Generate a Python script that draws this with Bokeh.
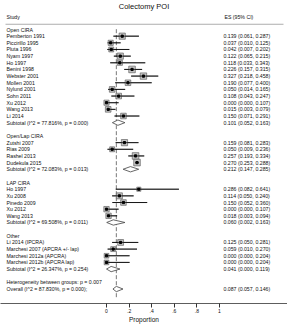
import math
from bokeh.plotting import figure
from bokeh.models import Range1d, FixedTicker, ColumnDataSource
from bokeh.core.properties import value
from bokeh.embed import file_html
from bokeh.resources import INLINE

title = "Colectomy POI"
axis_title = "Proportion"
col_study = "Study"
col_es = "ES (95% CI)"
ticks = [0, 0.2, 0.4, 0.6, 0.8, 1]
tick_labels = ["0", ".2", ".4", ".6", ".8", "1"]

row_labels = [
    "Open CIRA", "Pemberton 1991", "Piccirillo 1995", "Pluta 1996", "Nyam 1997", "Ho 1997",
    "Benini 1998", "Webster 2001", "Mollen 2001", "Nylund 2001", "Sohn 2011", "Xu 2012",
    "Wang 2013", "Li 2014", "Subtotal  (I^2 = 77.816%, p = 0.000)", "",
    "Open/Lap CIRA", "Zutshi 2007", "Rias 2009", "Rashel 2013", "Dudekula 2015",
    "Subtotal  (I^2 = 72.083%, p = 0.013)", "",
    "LAP CIRA", "Ho 1997", "Xu 2008", "Pinedo 2009", "Xu 2012", "Wang 2013",
    "Subtotal  (I^2 = 69.508%, p = 0.011)", "",
    "Other", "Li 2014 (IPCRA)", "Marchesi 2007 (APCRA +/- lap)", "Marchesi 2012a (APCRA)",
    "Marchesi 2012b (APCRA lap)", "Subtotal  (I^2 = 26.347%, p = 0.254)", "",
    "Heterogeneity between groups: p = 0.007", "Overall  (I^2 = 87.830%, p = 0.000);",
]
row_types = (["group"] + ["study"] * 13 + ["sub", "blank"]
             + ["group"] + ["study"] * 4 + ["sub", "blank"]
             + ["group"] + ["study"] * 5 + ["sub", "blank"]
             + ["group"] + ["study"] * 4 + ["sub", "blank"]
             + ["het", "overall"])
N = None
es = [N, .139, .037, .042, .122, .118, .226, .327, .190, .050, .108, .000, .015, .150, .101, N,
      N, .159, .050, .257, .270, .212, N,
      N, .286, .114, .150, .000, .018, .060, N,
      N, .125, .059, .000, .000, .041, N,
      N, .087]
lo = [N, .061, .010, .007, .065, .033, .157, .218, .077, .014, .043, .000, .003, .071, .052, N,
      N, .081, .009, .193, .253, .147, N,
      N, .082, .050, .052, .000, .003, .002, N,
      N, .050, .010, .000, .000, .000, N,
      N, .057]
hi = [N, .287, .125, .202, .215, .343, .315, .458, .400, .165, .247, .107, .079, .291, .163, N,
      N, .283, .236, .334, .288, .285, N,
      N, .641, .240, .360, .107, .094, .163, N,
      N, .281, .270, .204, .204, .119, N,
      N, .146]
weights = [N, 8.0, 5.5, 5.0, 8.0, 5.5, 9.0, 8.5, 6.5, 6.5, 6.5, 5.5, 6.5, 6.5, N, N,
           N, 8.0, 5.0, 9.0, 9.0, N, N,
           N, 3.5, 7.5, 6.5, 6.0, 6.0, N, N,
           N, 7.0, 5.0, 4.5, 4.5, N, N,
           N, N]

FONT = value("Liberation Sans")
W, H = 287, 325
PX_PER_UNIT = 113.0
X0_PX = 106.0
x0 = -X0_PX / PX_PER_UNIT
x1 = x0 + W / PX_PER_UNIT

def xd(px):
    return x0 + px / PX_PER_UNIT

FRAME_H = 306.0
ROW0_PX = 29.3
ROW_STEP = 6.72

def yd(px):
    return 1 + (px - ROW0_PX) / ROW_STEP

p = figure(width=W, height=H, output_backend="svg", toolbar_location=None,
           x_range=Range1d(x0, x1), y_range=Range1d(yd(FRAME_H), yd(0)),
           y_axis_type=None, min_border_left=0, min_border_right=0,
           min_border_top=0, min_border_bottom=int(H - FRAME_H))
p.grid.visible = False
p.outline_line_color = None
p.background_fill_color = "white"
p.border_fill_color = "white"

rows = list(range(1, len(row_labels) + 1))
overall_es = es[-1]

# dashed overall line
p.segment(x0=[overall_es], x1=[overall_es], y0=[0.95], y1=[yd(301)],
          line_color="#555555", line_width=0.8, line_dash="4 2")

# header line
p.segment(x0=[xd(5)], x1=[xd(283)], y0=[yd(24)], y1=[yd(24)],
          line_color="#999999", line_width=0.8)

# studies
s_idx = [i for i, t in enumerate(row_types) if t == "study"]
src = ColumnDataSource(dict(
    y=[rows[i] for i in s_idx], es=[es[i] for i in s_idx],
    lo=[lo[i] for i in s_idx], hi=[hi[i] for i in s_idx],
    size=[2.2 * math.sqrt(weights[i]) for i in s_idx]))
p.segment(x0="lo", x1="hi", y0="y", y1="y", source=src, line_color="black", line_width=0.7)
p.scatter(x="es", y="y", size="size", marker="square", source=src,
          fill_color="#c4c4c4", line_color="#505050", line_width=0.6)
p.segment(x0="lo", x1="hi", y0="y", y1="y", source=src, line_color="black", line_width=0.7)
p.scatter(x="es", y="y", size=2.2, marker="square", source=src,
          fill_color="black", line_color="black")

# diamonds
d_idx = [i for i, t in enumerate(row_types) if t in ("sub", "overall")]
half = 0.4
xs = [[lo[i], es[i], hi[i], es[i]] for i in d_idx]
ys = [[rows[i], rows[i] - half, rows[i], rows[i] + half] for i in d_idx]
p.patches(xs=xs, ys=ys, fill_color="white", line_color="#404040", line_width=0.8)

# labels
lab_idx = [i for i, t in enumerate(row_types) if t != "blank"]
p.text(x=[xd(6)] * len(lab_idx), y=[rows[i] for i in lab_idx],
       text=[row_labels[i] for i in lab_idx], text_font=FONT, text_font_size="5.2px",
       text_baseline="middle", text_align="left", text_color="#111111")

e_idx = [i for i in range(len(rows)) if es[i] is not None]
p.text(x=[xd(223)] * len(e_idx), y=[rows[i] for i in e_idx],
       text=["%.3f (%.3f, %.3f)" % (es[i], lo[i], hi[i]) for i in e_idx],
       text_font=FONT, text_font_size="5.2px", text_baseline="middle",
       text_align="left", text_color="#111111")

# headers and title
p.text(x=[xd(6)], y=[yd(17)], text=[col_study], text_font=FONT, text_font_size="5.2px",
       text_baseline="middle", text_color="#111111")
p.text(x=[xd(224)], y=[yd(17)], text=[col_es], text_font=FONT, text_font_size="5.2px",
       text_baseline="middle", text_color="#111111")
p.text(x=[xd(143.5)], y=[yd(6)], text=[title], text_font=FONT, text_font_size="7.5px",
       text_baseline="middle", text_align="center", text_color="#111111")

ax = p.xaxis[0]
ax.ticker = FixedTicker(ticks=ticks)
ax.major_label_overrides = {t: l for t, l in zip(ticks, tick_labels)}
ax.minor_tick_line_color = None
ax.major_tick_in = 0
ax.major_tick_out = 4
ax.major_label_standoff = 1
ax.major_label_text_font = "Liberation Sans"
ax.major_label_text_font_size = "5px"
ax.major_label_text_color = "#111111"
ax.axis_label = axis_title
ax.axis_label_standoff = 0
ax.axis_label_text_font = "Liberation Sans"
ax.axis_label_text_font_size = "6.5px"
ax.axis_label_text_font_style = "normal"
ax.axis_label_text_color = "#111111"
ax.axis_line_color = "#333333"
ax.axis_line_width = 0.8
ax.major_tick_line_color = "#333333"

open("out.html", "w").write(file_html(p, INLINE))
